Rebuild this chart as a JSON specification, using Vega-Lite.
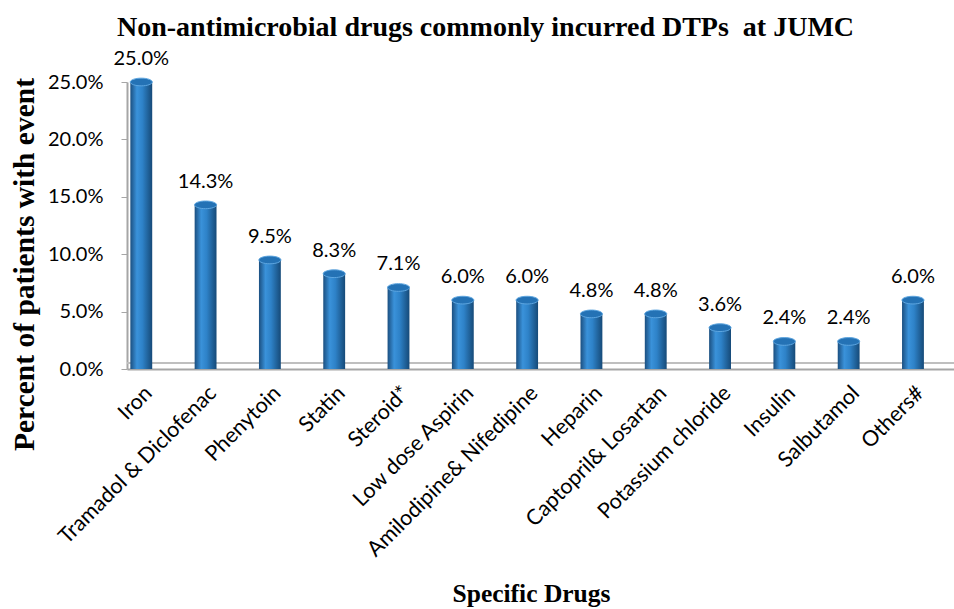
{
  "$schema": "https://vega.github.io/schema/vega-lite/v6.json",
  "autosize": "none",
  "width": 827,
  "height": 287,
  "padding": {"left": 127, "top": 82, "right": 0, "bottom": 240},
  "background": "white",
  "title": {
    "text": "Non-antimicrobial drugs commonly incurred DTPs\u00a0 at JUMC",
    "font": "Liberation Serif",
    "fontSize": 28,
    "fontWeight": "bold",
    "color": "#000000",
    "anchor": "start",
    "frame": "group",
    "dx": -10,
    "offset": 7
  },
  "data": {
    "values": [
      {"drug": "Iron", "pct": 0.25},
      {"drug": "Tramadol & Diclofenac", "pct": 0.143},
      {"drug": "Phenytoin", "pct": 0.095},
      {"drug": "Statin", "pct": 0.083},
      {"drug": "Steroid*", "pct": 0.071},
      {"drug": "Low dose Aspirin", "pct": 0.06},
      {"drug": "Amilodipine& Nifedipine", "pct": 0.06},
      {"drug": "Heparin", "pct": 0.048},
      {"drug": "Captopril& Losartan", "pct": 0.048},
      {"drug": "Potassium chloride", "pct": 0.036},
      {"drug": "Insulin", "pct": 0.024},
      {"drug": "Salbutamol", "pct": 0.024},
      {"drug": "Others#", "pct": 0.06}
    ]
  },
  "encoding": {
    "x": {
      "field": "drug",
      "type": "nominal",
      "sort": null,
      "scale": {"paddingInner": 0.66, "paddingOuter": 0.26, "align": 0.1},
      "axis": {
        "title": "Specific Drugs",
        "titleFont": "Liberation Serif",
        "titleFontSize": 25.5,
        "titleFontWeight": "bold",
        "titleColor": "#000000",
        "titleX": 404,
        "titleY": 224,
        "titleBaseline": "middle",
        "titleAnchor": "middle",
        "labelAngle": -45,
        "labelAlign": "right",
        "labelBaseline": "top",
        "labelFont": "Lato",
        "labelFontSize": 21.5,
        "labelColor": "#000000",
        "labelPadding": 13,
        "labelLimit": 0,
        "ticks": false,
        "domainColor": "#a6a6a6",
        "domainWidth": 2
      }
    },
    "y": {
      "field": "pct",
      "type": "quantitative",
      "scale": {"domain": [0, 0.25]},
      "axis": {
        "title": "Percent of patients with event",
        "titleFont": "Liberation Serif",
        "titleFontSize": 29.5,
        "titleFontWeight": "bold",
        "titleColor": "#000000",
        "titleX": -103,
        "titleY": 182,
        "titleAngle": -90,
        "titleBaseline": "middle",
        "titleAnchor": "middle",
        "format": ".1%",
        "values": [0, 0.05, 0.1, 0.15, 0.2, 0.25],
        "labelFont": "Lato",
        "labelFontSize": 20,
        "labelColor": "#000000",
        "labelPadding": 18,
        "tickColor": "#a6a6a6",
        "tickSize": 6,
        "domainColor": "#a6a6a6",
        "domainWidth": 2,
        "grid": false
      }
    }
  },
  "layer": [
    {
      "mark": {"type": "rule", "color": "#bfbfbf", "strokeWidth": 2, "yOffset": -6, "xOffset": 6},
      "encoding": {"y": {"datum": 0}, "x": null}
    },
    {
      "mark": {
        "type": "bar",
        "color": {
          "gradient": "linear",
          "x1": 0, "x2": 1, "y1": 0, "y2": 0,
          "stops": [
            {"offset": 0, "color": "#1b4f80"},
            {"offset": 0.3, "color": "#3a92da"},
            {"offset": 0.55, "color": "#2e82c8"},
            {"offset": 1, "color": "#164a78"}
          ]
        }
      }
    },
    {
      "mark": {
        "type": "point",
        "filled": true,
        "shape": "M-1,0A1,0.35,0,1,0,1,0A1,0.35,0,1,0,-1,0Z",
        "size": 484,
        "color": "#2472b5",
        "stroke": "#5ea6e0",
        "strokeWidth": 1,
        "opacity": 1
      }
    },
    {
      "mark": {
        "type": "text",
        "baseline": "bottom",
        "dy": -13,
        "font": "Lato",
        "fontSize": 20,
        "color": "#000000"
      },
      "encoding": {"text": {"field": "pct", "format": ".1%"}}
    }
  ],
  "config": {"view": {"stroke": null}}
}
